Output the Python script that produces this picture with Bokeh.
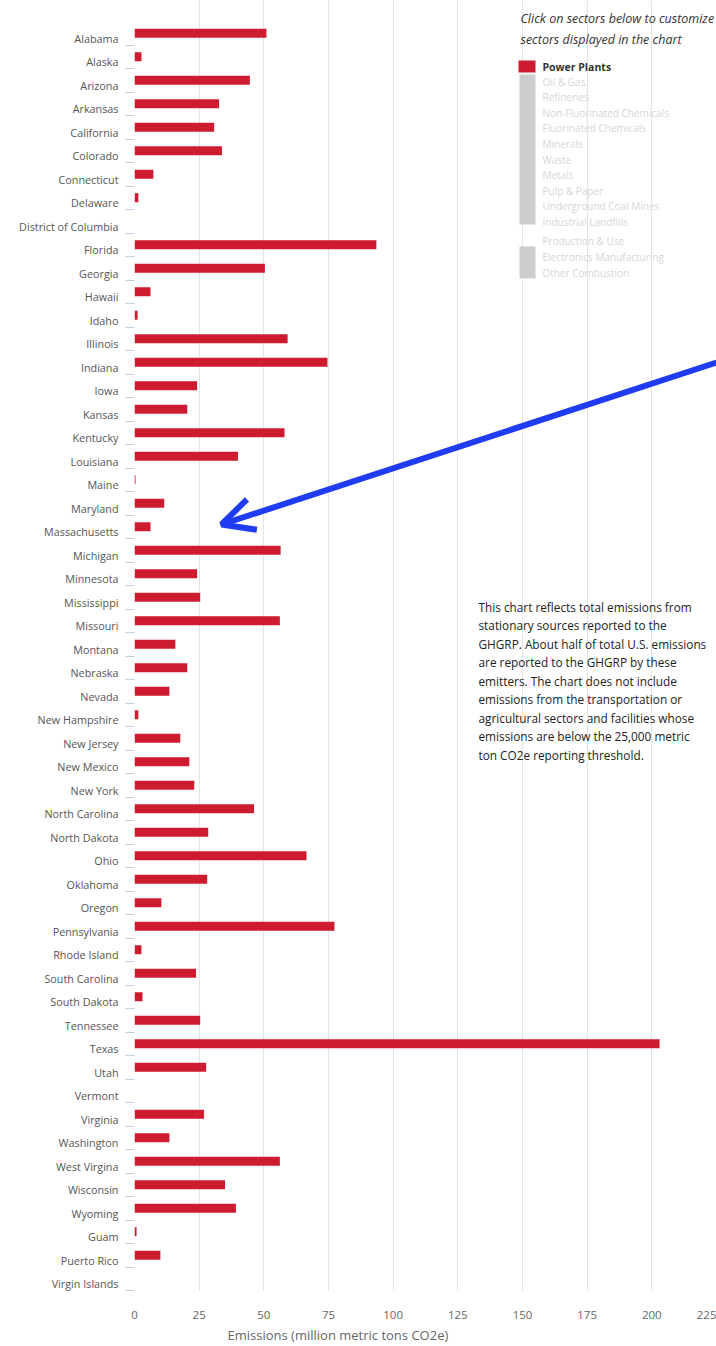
from bokeh.plotting import figure
from bokeh.models import (Range1d, FixedTicker, Label, BoxAnnotation, Arrow, OpenHead,
                          ColumnDataSource, Title)
from bokeh.embed import file_html
from bokeh.resources import INLINE

# ---------------- data ----------------
states = ["Alabama", "Alaska", "Arizona", "Arkansas", "California", "Colorado", "Connecticut",
          "Delaware", "District of Columbia", "Florida", "Georgia", "Hawaii", "Idaho", "Illinois",
          "Indiana", "Iowa", "Kansas", "Kentucky", "Louisiana", "Maine", "Maryland", "Massachusetts",
          "Michigan", "Minnesota", "Mississippi", "Missouri", "Montana", "Nebraska", "Nevada",
          "New Hampshire", "New Jersey", "New Mexico", "New York", "North Carolina", "North Dakota",
          "Ohio", "Oklahoma", "Oregon", "Pennsylvania", "Rhode Island", "South Carolina",
          "South Dakota", "Tennessee", "Texas", "Utah", "Vermont", "Virginia", "Washington",
          "West Virgina", "Wisconsin", "Wyoming", "Guam", "Puerto Rico", "Virgin Islands"]
emissions = [51.0, 2.7, 44.6, 32.7, 30.8, 33.8, 7.3,
             1.5, 0.0, 93.5, 50.4, 6.2, 1.2, 59.2,
             74.6, 24.2, 20.4, 58.0, 40.0, 0.4, 11.5, 6.2,
             56.5, 24.2, 25.4, 56.2, 15.8, 20.4, 13.5,
             1.5, 17.7, 21.2, 23.1, 46.2, 28.5,
             66.5, 28.1, 10.4, 77.3, 2.7, 23.8,
             3.1, 25.4, 203.0, 27.7, 0.0, 26.9, 13.5,
             56.2, 35.0, 39.2, 0.8, 10.0, 0.0]
x_ticks = [0, 25, 50, 75, 100, 125, 150, 175, 200, 225]
x_title = "Emissions (million metric tons CO2e)"
legend_title = ["Click on sectors below to customize", "sectors displayed in the chart"]
legend_active = "Power Plants"
legend_group1 = ["Oil & Gas", "Refineries", "Non-Fluorinated Chemicals", "Fluorinated Chemicals",
                 "Minerals", "Waste", "Metals", "Pulp & Paper", "Underground Coal Mines",
                 "Industrial Landfills"]
legend_group2 = ["Production & Use", "Electronics Manufacturing", "Other Combustion"]
note_lines = ["This chart reflects total emissions from",
              "stationary sources reported to the",
              "GHGRP. About half of total U.S. emissions",
              "are reported to the GHGRP by these",
              "emitters. The chart does not include",
              "emissions from the transportation or",
              "agricultural sectors and facilities whose",
              "emissions are below the 25,000 metric",
              "ton CO2e reporting threshold."]

# ---------------- styling / geometry ----------------
BAR_COLOR = "#cd1c30"
N = len(states)
BAR_SHIFT = 0.21          # bars sit slightly above their label (Highcharts style)
FRAME_L = 134.0
FRAME_BOTTOM = 1290.0
CAT_TOP = 21.0            # pixel where the first category band starts
XSCALE = (716.0 - FRAME_L) / 225.0
ROW = (FRAME_BOTTOM - CAT_TOP) / N
Y_BOTTOM = N - 0.5 - BAR_SHIFT
Y_TOP = -0.5 - BAR_SHIFT - CAT_TOP / ROW   # frame reaches the very top of the canvas


def dx(px):
    return (px - FRAME_L) / XSCALE


def dy(py):
    return py / ROW + Y_TOP


FONT = "Open Sans"

p = figure(width=716, height=1346, output_backend="svg", toolbar_location=None,
           x_range=Range1d(0, 225), y_range=Range1d(Y_BOTTOM, Y_TOP),
           min_border_left=int(FRAME_L), min_border_right=0, min_border_top=0,
           min_border_bottom=int(1346 - FRAME_BOTTOM),
           outline_line_color=None, background_fill_color="white", border_fill_color="white")

src = ColumnDataSource(dict(y=[i - BAR_SHIFT for i in range(N)], val=emissions, name=states))
p.hbar(y="y", left=0, right="val", height=0.38, source=src, fill_color=BAR_COLOR,
       line_color=None)

# y axis (categories)
yax = p.yaxis[0]
yax.ticker = FixedTicker(ticks=list(range(N)),
                         minor_ticks=[i - BAR_SHIFT + 0.5 for i in range(0, N)])
yax.major_label_overrides = {i: s for i, s in enumerate(states)}
yax.major_label_text_font = FONT
yax.major_label_text_font_size = "10.8px"
yax.major_label_text_color = "#555555"
yax.major_tick_out = 0
yax.major_tick_in = 0
yax.major_label_standoff = 7
yax.minor_tick_out = 9
yax.minor_tick_in = 0
yax.minor_tick_line_color = "#C0D0E0"
yax.axis_line_color = None

# x axis (values)
xax = p.xaxis[0]
xax.ticker = FixedTicker(ticks=x_ticks)
xax.axis_line_color = None
xax.major_tick_line_color = None
xax.minor_tick_line_color = None
xax.major_label_text_font = FONT
xax.major_label_text_font_size = "11.5px"
xax.major_label_text_color = "#666666"
xax.major_label_standoff = 14

p.add_layout(Title(text=x_title, align="left", offset=93, text_font=FONT,
                   text_font_size="13px", text_font_style="normal", text_color="#666666",
                   standoff=4), "below")

p.ygrid.grid_line_color = None
p.xgrid.grid_line_color = "#e4e4e4"
p.xgrid.ticker = FixedTicker(ticks=x_ticks)

# ---------------- legend panel (sector chooser) ----------------
for k, t in enumerate(legend_title):
    p.add_layout(Label(x=dx(520), y=dy(18 + k * 21), text=t, text_font=FONT,
                       text_font_size="12.5px", text_font_style="italic",
                       text_color="#333333", text_baseline="middle"))

p.add_layout(BoxAnnotation(left=dx(518), right=dx(535), top=dy(60), bottom=dy(72),
                           fill_color=BAR_COLOR, fill_alpha=1, line_color=None))
p.add_layout(Label(x=dx(542), y=dy(66), text=legend_active, text_font=FONT,
                   text_font_size="10.5px", text_font_style="bold", text_color="#333333",
                   text_baseline="middle"))

p.add_layout(BoxAnnotation(left=dx(519), right=dx(535), top=dy(74), bottom=dy(224),
                           fill_color="#cdcdcd", fill_alpha=1, line_color=None))
p.add_layout(BoxAnnotation(left=dx(519), right=dx(535), top=dy(246), bottom=dy(278),
                           fill_color="#cdcdcd", fill_alpha=1, line_color=None))
for k, t in enumerate(legend_group1):
    p.add_layout(Label(x=dx(542), y=dy(81 + k * 15.6), text=t, text_font=FONT,
                       text_font_size="10px", text_color="#d6d6d6", text_baseline="middle"))
for k, t in enumerate(legend_group2):
    p.add_layout(Label(x=dx(542), y=dy(240 + k * 16), text=t, text_font=FONT,
                       text_font_size="10px", text_color="#d6d6d6", text_baseline="middle"))

# ---------------- explanatory note ----------------
for k, t in enumerate(note_lines):
    p.add_layout(Label(x=dx(478), y=dy(606 + k * 18.5), text=t, text_font=FONT,
                       text_font_size="11.8px", text_color="#222222", text_baseline="middle"))

# ---------------- blue call-out arrow ----------------
ARROW_BLUE = "#1f3cf2"
p.add_layout(Arrow(x_start=dx(716), y_start=dy(362), x_end=dx(221), y_end=dy(524),
                   line_color=ARROW_BLUE, line_width=6,
                   end=OpenHead(line_color=ARROW_BLUE, line_width=6, size=32)))

open("out.html", "w").write(file_html(p, INLINE))
